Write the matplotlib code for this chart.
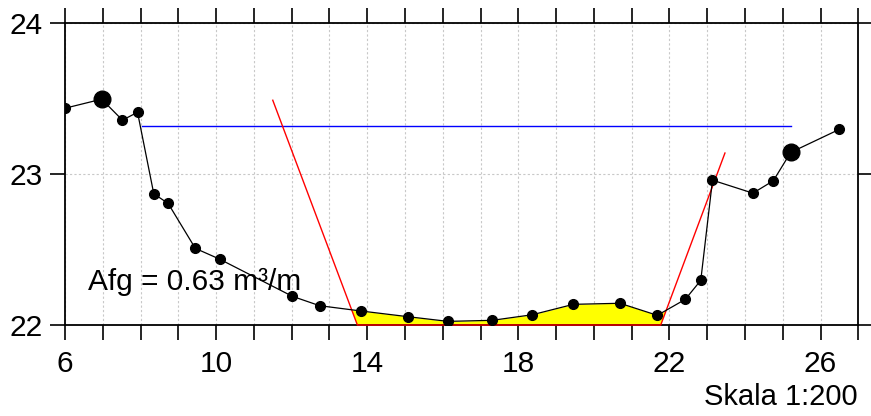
import numpy as np
import matplotlib.pyplot as plt
from matplotlib.patches import Polygon
from matplotlib.ticker import MultipleLocator

plt.rcParams['font.family'] = ['Liberation Sans', 'DejaVu Sans']

# terrain profile (station, level)
sta = [6.0, 6.97, 7.52, 7.92, 8.35, 8.73, 9.45, 10.09, 12.02, 12.74, 13.83,
       15.08, 16.14, 17.31, 18.37, 19.46, 20.69, 21.68, 22.42, 22.83, 23.14,
       24.21, 24.75, 25.21, 26.49]
lvl = [23.437, 23.497, 23.358, 23.41, 22.87, 22.806, 22.508, 22.437, 22.19,
       22.128, 22.093, 22.055, 22.024, 22.031, 22.068, 22.137, 22.144, 22.064,
       22.17, 22.296, 22.96, 22.874, 22.956, 23.144, 23.296]
big_sta = [6.97, 25.21]
big_lvl = [23.497, 23.144]

# design section (red) and water level (blue)
design_x = [11.50, 13.74, 21.77, 23.47]
design_y = [23.49, 22.0, 22.0, 23.14]
wl_x = [8.03, 25.23]
wl_y = [23.318, 23.318]

area_txt = "Afg = 0.63 m³/m"

fig = plt.figure(figsize=(8.71, 4.16), dpi=100)
ax = fig.add_axes([65 / 871, 1 - 325 / 416, (858.3 - 65) / 871, (325 - 23.3) / 416])
ax.set_xlim(6, 27)
ax.set_ylim(22, 24)

# yellow fill = terrain above bottom, clipped by design section
fill = ax.fill_between(sta, lvl, 22, color='#ffff00', lw=0, zorder=2)
trap = Polygon(list(zip(design_x, design_y)), closed=True, transform=ax.transData)
fill.set_clip_path(trap)

ax.plot(wl_x, wl_y, color='#0000ff', lw=1.0, zorder=3)
ax.plot(design_x, design_y, color='#ff0000', lw=1.0, zorder=3, clip_on=False)
ax.plot(sta, lvl, color='black', lw=0.9, marker='o', ms=7, zorder=4)
ax.plot(big_sta, big_lvl, 'o', color='black', ms=12, zorder=5)

ax.text(6.6, 22.23, area_txt, fontsize=21.5, va='baseline', ha='left', zorder=6)

xt = np.arange(6, 28)
ax.set_xticks(xt)
ax.set_xticklabels([str(v) if (v - 6) % 4 == 0 else '' for v in xt])
ax.yaxis.set_major_locator(MultipleLocator(1))
ax.grid(True, color='#c8c8c8', lw=0.8, linestyle=(0, (2, 2)))
ax.set_axisbelow(True)

ax.tick_params(axis='both', direction='out', length=11, width=1.2,
               labelsize=21.5, top=True, right=True, labeltop=False, labelright=False)
ax.tick_params(axis='x', pad=7)
ax.tick_params(axis='y', pad=5)
for s in ax.spines.values():
    s.set_linewidth(1.3)

fig.text(858 / 871, 5 / 416, "Skala 1:200", fontsize=21, ha='right', va='bottom')

fig.savefig('out.png', dpi=100)
